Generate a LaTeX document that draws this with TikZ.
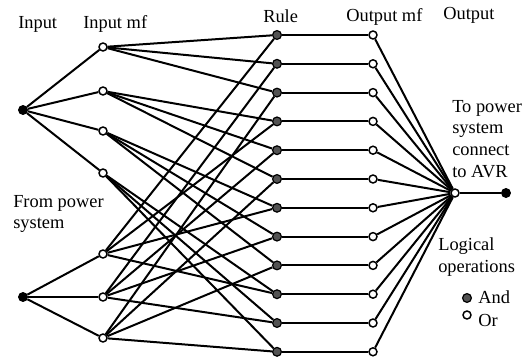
\documentclass[tikz,border=0pt]{standalone}
\usepackage{fontspec}
\setmainfont{Liberation Serif}
\begin{document}
\begin{tikzpicture}[x=0.75pt,y=-0.75pt,
  wire/.style={line width=1.5pt},
  srcdot/.style={circle,fill=black,draw=black,line width=0.6pt,inner sep=0pt,minimum size=6.8pt},
  mfnode/.style={circle,fill=white,draw=black,line width=1.1pt,inner sep=0pt,minimum size=6pt},
  rulenode/.style={circle,fill=black!68,draw=black,line width=0.9pt,inner sep=0pt,minimum size=6.6pt},
  lbl/.style={font=\fontsize{13.8}{16.2}\selectfont,inner sep=0pt,align=left}]
\useasboundingbox (0,0) rectangle (528,360);

% column headings
\node[lbl,anchor=base west] (hin)   at (18,29)  {Input};
\node[lbl,anchor=base west] (hinmf) at (83,29)  {Input mf};
\node[lbl,anchor=base west] (hrule) at (263,23) {Rule};
\node[lbl,anchor=base west] (houtmf) at (346,22) {Output mf};
\node[lbl,anchor=base west] (hout)  at (443,20) {Output};

% side notes
\node[lbl,anchor=north west] (tonote)   at (452,100) {To power\\system\\connect\\to AVR};
\node[lbl,anchor=north west] (fromnote) at (13,195)  {From power\\system};
\node[lbl,anchor=north west] (lognote)  at (438,237.5) {Logical\\operations};

% inputs
\node[srcdot] (in1) at (23,110) {};
\node[srcdot] (in2) at (23,297) {};

% input membership functions
\foreach \k/\yy in {1/47,2/91,3/131,4/173}
  \node[mfnode] (ma\k) at (103,\yy) {};
\foreach \k/\yy in {1/254,2/297,3/338}
  \node[mfnode] (mb\k) at (103,\yy) {};

% rules and output membership functions
\foreach \i in {1,...,12} {
  \node[rulenode] (r\i) at (277,{35+28.8*(\i-1)}) {};
  \node[mfnode]   (o\i) at (373,{35+28.8*(\i-1)}) {};
}

% output
\node[mfnode] (out) at (455,193) {};
\node[srcdot] (y) at (506,193) {};

% legend
\node[rulenode] (lgand) at (467,298) {};
\node[mfnode]   (lgor)  at (467,315) {};
\node[lbl,anchor=base west] (tand) at (478,303) {And};
\node[lbl,anchor=base west] (tor)  at (478,326) {Or};

% connections
\foreach \k in {1,...,4} \draw[wire] (in1) -- (ma\k);
\foreach \k in {1,...,3} \draw[wire] (in2) -- (mb\k);
\foreach \i in {1,...,12} {
  \pgfmathtruncatemacro{\ta}{int((\i-1)/3)+1}
  \pgfmathtruncatemacro{\tb}{mod(\i-1,3)+1}
  \draw[wire] (ma\ta) -- (r\i);
  \draw[wire] (mb\tb) -- (r\i);
  \draw[wire] (r\i) -- (o\i);
  \draw[wire] (o\i) -- (out);
}
\draw[wire] (out) -- (y);
\end{tikzpicture}
\end{document}
